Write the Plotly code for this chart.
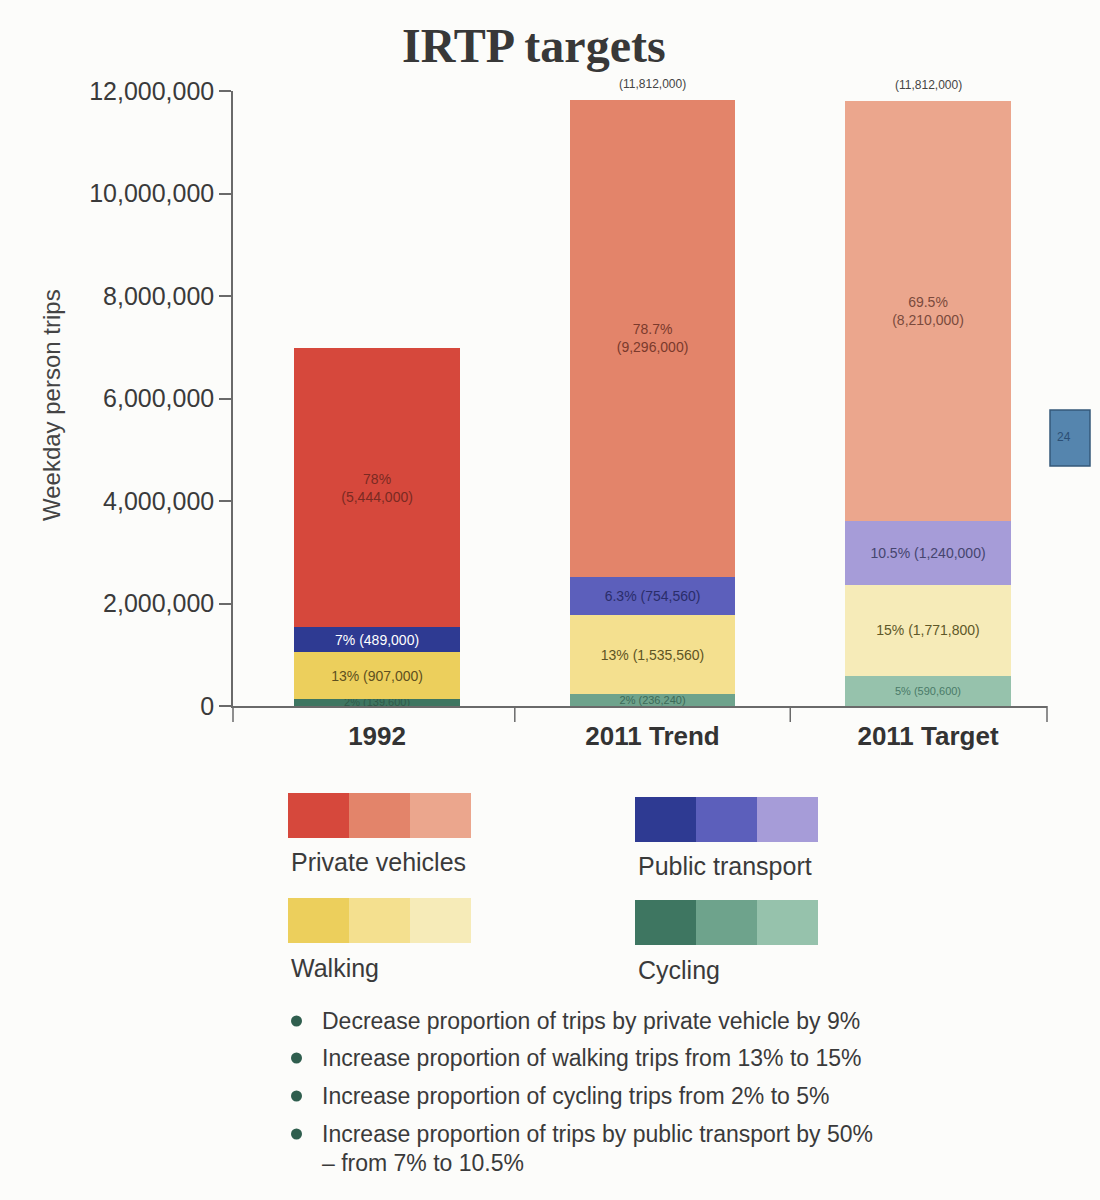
import plotly.graph_objects as go

# ---------------- data ----------------
categories = ["1992", "2011 Trend", "2011 Target"]
cycling = [139600, 236240, 590600]
walking = [907000, 1535560, 1771800]
public = [489000, 754560, 1240000]
private = [5444000, 9296000, 8210000]
totals_text = ["(6,980,000)", "(11,812,000)", "(11,812,000)"]

cycling_text = ["2% (139,600)", "2% (236,240)", "5% (590,600)"]
walking_text = ["13% (907,000)", "13% (1,535,560)", "15% (1,771,800)"]
public_text = ["7% (489,000)", "6.3% (754,560)", "10.5% (1,240,000)"]
private_text = ["78%<br>(5,444,000)", "78.7%<br>(9,296,000)", "69.5%<br>(8,210,000)"]

y_ticks = [0, 2000000, 4000000, 6000000, 8000000, 10000000, 12000000]
y_tick_text = ["0", "2,000,000", "4,000,000", "6,000,000", "8,000,000", "10,000,000", "12,000,000"]

legend_names = ["Private vehicles", "Public transport", "Walking", "Cycling"]
bullets = [
    "Decrease proportion of trips by private vehicle by 9%",
    "Increase proportion of walking trips from 13% to 15%",
    "Increase proportion of cycling trips from 2% to 5%",
    "Increase proportion of trips by public transport by 50%",
]
bullet_cont = "– from 7% to 10.5%"

# ---------------- styles ----------------
col_private = ["#d6483c", "#e3846a", "#eba68d"]
col_public = ["#2e3a92", "#5c5fbb", "#a69cd8"]
col_walking = ["#eccf5c", "#f4e08f", "#f6ebb8"]
col_cycling = ["#3e7661", "#6ea38c", "#96c2ac"]

FONT = "Liberation Sans, Arial, sans-serif"
AXC = "#6a6a6a"

# pixel -> paper helpers (plot area: x 233..1047, y 91..706)
L, R, T, B = 233, 1047, 91, 706
def PX(x):
    return (x - L) / (R - L)
def PY(y):
    return (B - y) / (B - T)

fig = go.Figure()

def add_stack(vals, txt, colors, tcolors, tsize, bold=False):
    fig.add_trace(go.Bar(
        x=categories, y=vals, text=txt,
        marker=dict(color=colors, line=dict(width=0)),
        width=0.6,
        textposition="inside", insidetextanchor="middle",
        constraintext="none", textangle=0,
        textfont=dict(family=FONT, size=tsize, color=tcolors,
                      weight="bold" if bold else "normal"),
        hoverinfo="skip", showlegend=False,
    ))

add_stack(cycling, cycling_text, col_cycling, ["#2f5a4a", "#3c6a58", "#4a7a68"], 11)
add_stack(walking, walking_text, col_walking, ["#5e5020", "#5e5424", "#5e5828"], 14)
add_stack(public, public_text, col_public, ["#ffffff", "#2a2d6a", "#45456e"], 14)
add_stack(private, private_text, col_private, ["#7a2a22", "#7a3a2c", "#7a4a3c"], 14)

annotations = []
totals = [c + w + p + v for c, w, p, v in zip(cycling, walking, public, private)]
for cat, tot, t in zip(categories, totals, totals_text):
    annotations.append(dict(x=cat, y=tot, text=t, showarrow=False, yshift=16,
                            xanchor="center",
                            font=dict(family=FONT, size=12, color="#444444")))

# title
annotations.append(dict(xref="paper", yref="paper", x=PX(534), y=PY(45), text="<b>IRTP targets</b>",
                        showarrow=False, xanchor="center", yanchor="middle",
                        font=dict(family="Liberation Serif, Times New Roman, serif", size=48, color="#383838")))
# y title
annotations.append(dict(xref="paper", yref="paper", x=PX(52), y=PY(405), text="Weekday person trips",
                        showarrow=False, textangle=-90, xanchor="center", yanchor="middle",
                        font=dict(family=FONT, size=24, color="#444444")))

shapes = []
# extension of y axis below 0, category boundary ticks and right end tick
shapes.append(dict(type="line", xref="paper", yref="paper", x0=0, x1=0, y0=0, y1=PY(722),
                   line=dict(color=AXC, width=1.5)))
shapes.append(dict(type="line", xref="paper", yref="paper", x0=1, x1=1, y0=0, y1=PY(722),
                   line=dict(color=AXC, width=1.5)))
for bx in [0.5, 1.5]:
    shapes.append(dict(type="line", xref="x", yref="paper", x0=bx, x1=bx, y0=0, y1=PY(722),
                       line=dict(color=AXC, width=1.5)))

# legend swatches
legend_pos = [(288, 793, 289, 862), (635, 797, 636, 866), (288, 898, 289, 968), (635, 900, 636, 970)]
legend_cols = [col_private, col_public, col_walking, col_cycling]
for name, (sx, sy, tx, ty), cols in zip(legend_names, legend_pos, legend_cols):
    for i, c in enumerate(cols):
        shapes.append(dict(type="rect", xref="paper", yref="paper",
                           x0=PX(sx + 61 * i), x1=PX(sx + 61 * (i + 1)),
                           y0=PY(sy + 45), y1=PY(sy), fillcolor=c, line=dict(width=0)))
    annotations.append(dict(xref="paper", yref="paper", x=PX(tx), y=PY(ty), text=name,
                            showarrow=False, xanchor="left", yanchor="middle",
                            font=dict(family=FONT, size=25, color="#3a3a3a")))

# bullets
bullet_y = [1021, 1058, 1096, 1134]
for t, by in zip(bullets, bullet_y):
    shapes.append(dict(type="circle", xref="paper", yref="paper",
                       x0=PX(291), x1=PX(302), y0=PY(by + 5.5), y1=PY(by - 5.5),
                       fillcolor="#2f5e4e", line=dict(width=0)))
    annotations.append(dict(xref="paper", yref="paper", x=PX(320), y=PY(by), text=t,
                            showarrow=False, xanchor="left", yanchor="middle",
                            font=dict(family=FONT, size=23, color="#3a3a3a")))
annotations.append(dict(xref="paper", yref="paper", x=PX(320), y=PY(1163), text=bullet_cont,
                        showarrow=False, xanchor="left", yanchor="middle",
                        font=dict(family=FONT, size=23, color="#3a3a3a")))

# page tab
shapes.append(dict(type="rect", xref="paper", yref="paper", x0=PX(1050), x1=PX(1090),
                   y0=PY(466), y1=PY(410), fillcolor="#5585ae", line=dict(color="#34587a", width=1.5)))
annotations.append(dict(xref="paper", yref="paper", x=PX(1064), y=PY(437), text="24",
                        showarrow=False, xanchor="center", yanchor="middle",
                        font=dict(family=FONT, size=12, color="#2c4f75")))

fig.update_layout(
    barmode="stack",
    width=1100, height=1200,
    margin=dict(l=L, r=1100 - R, t=T, b=1200 - B),
    paper_bgcolor="#fcfcfa", plot_bgcolor="#fcfcfa",
    xaxis=dict(range=[-0.523, 2.432], showline=True, linecolor=AXC, linewidth=1.5,
               ticks="", ticklabelstandoff=6,
               tickfont=dict(family=FONT, size=26, color="#333333", weight="bold"),
               showgrid=False, zeroline=False, fixedrange=True),
    yaxis=dict(range=[0, 12000000], tickvals=y_ticks, ticktext=y_tick_text,
               showline=True, linecolor=AXC, linewidth=1.5,
               ticks="outside", ticklen=12, tickcolor=AXC, tickwidth=1.5,
               tickfont=dict(family=FONT, size=25, color="#3a3a3a"),
               showgrid=False, zeroline=False, fixedrange=True),
    annotations=annotations,
    shapes=shapes,
)

fig.write_html("out.html")
